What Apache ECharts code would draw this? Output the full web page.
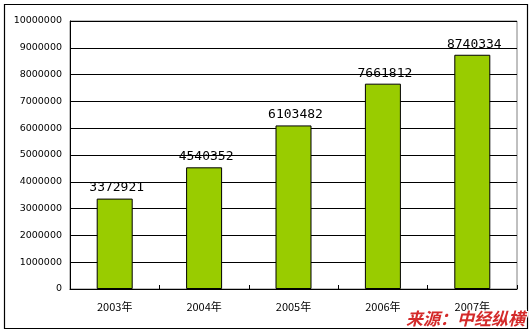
<!DOCTYPE html>
<html><head><meta charset="utf-8">
<script src="https://cdn.jsdelivr.net/npm/echarts@6/dist/echarts.min.js"></script>
<style>html,body{margin:0;padding:0;background:#fff}#c{width:530px;height:331px}</style>
</head><body><div id="c"></div>
<script>
var categories = ['2003年', '2004年', '2005年', '2006年', '2007年'];
var values = [3372921, 4540352, 6103482, 7661812, 8740334];
var yMin = 0, yMax = 10000000, yStep = 1000000;
var sourceText = '来源：中经纵横';

var chart = echarts.init(document.getElementById('c'), null, {renderer: 'canvas'});
chart.setOption({
  animation: false,
  backgroundColor: '#fff',
  grid: {left: 70, right: 13, top: 21, bottom: 42, show: true, borderColor: '#808080', borderWidth: 1, backgroundColor: 'transparent'},
  xAxis: {
    type: 'category', data: categories,
    axisLine: {lineStyle: {color: '#000', width: 1}},
    axisTick: {show: true, inside: true, length: 4, alignWithLabel: false, lineStyle: {color: '#000'}},
    axisLabel: {color: '#000', fontSize: 11, fontFamily: 'Noto Sans CJK SC', margin: 12}
  },
  yAxis: {
    type: 'value', min: yMin, max: yMax, interval: yStep,
    axisLine: {show: true, lineStyle: {color: '#000', width: 1}},
    axisTick: {show: false},
    splitLine: {show: true, lineStyle: {color: '#000', width: 1}},
    axisLabel: {color: '#000', fontSize: 9.5, fontFamily: 'DejaVu Sans', margin: 8, formatter: function (v) { return String(v); }}
  },
  series: [{
    type: 'bar', data: values, barWidth: 36,
    itemStyle: {color: '#99cc00', borderColor: '#000', borderWidth: 1},
    label: {show: true, position: 'top', distance: 4, color: '#000', fontSize: 13, fontFamily: 'DejaVu Sans Mono', offset: [2, 0], formatter: function (p) { return String(p.value); }}
  }],
  graphic: [
    {type: 'rect', left: 2, top: 2, shape: {width: 523, height: 324}, style: {fill: 'none', stroke: '#000', lineWidth: 1.2}, z: 100},
    {type: 'text', right: 4, bottom: 3, z: 101, style: {text: sourceText, fill: '#d42a2a', font: 'italic bold 17px "Noto Sans CJK SC"', stroke: '#fff', lineWidth: 2}}
  ]
});
</script></body></html>
